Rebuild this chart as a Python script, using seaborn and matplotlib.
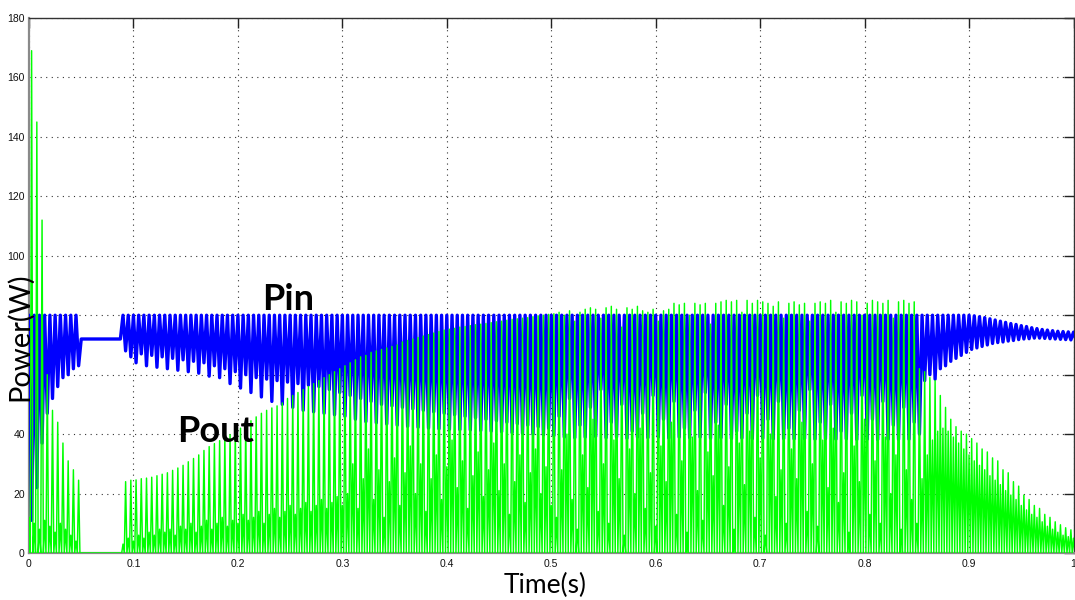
import numpy as np
import pandas as pd
import matplotlib
matplotlib.use("Agg")
import matplotlib.pyplot as plt
import seaborn as sns

# ---------------- data ----------------
STEP = 0.005                      # one switching cycle per sample
time = np.round(np.arange(201) * STEP, 4)

# Pin : cycle peaks (upper envelope) and cycle troughs
pin_peak = ([80] * 10 + [72] * 8 + [80] * 163 +
            [79.8, 79.5, 79.2, 78.8, 78.4, 78.0, 77.6, 77.2, 76.9, 76.5,
             76.2, 75.8, 75.5, 75.2, 75.0, 74.8, 74.6, 74.5, 74.4, 74.3])

pin_trough = ([11, 22, 37, 47, 52, 56, 59, 60, 62, 63] + [72] * 8 + [68, 66, 64] +
              [67, 63, 66.5, 62.5, 66, 62, 65.5, 61.5, 65, 61,
               64.5, 60.5, 64, 59.5, 63, 59, 62, 57, 61, 55.5,
               60, 54, 59, 52.5, 58.5, 51, 58, 50, 57.5, 49,
               57, 48, 56.5, 47.5, 56, 47, 55, 46.5, 54, 46,
               53, 45, 52, 44.2, 51, 43.8, 50, 43.4, 49.5, 43,
               49, 42.6, 48.5, 42.3, 48, 42, 47.5, 41.8, 47, 41.6,
               46.5, 41.5, 46, 41.4, 45.5, 41.2, 45, 41, 44.5, 40.8,
               44, 40.5, 43.5, 40.2, 43, 40, 42.5, 39.7, 42, 39.5] +
              [46, 39, 52, 38.8, 43, 39, 49, 39.2, 55, 38.8,
               44, 39, 50, 38.6, 41, 39, 47, 38.8, 53, 39,
               45, 38.7, 51, 39, 42, 38.8, 48, 39, 54, 38.6,
               44, 38.8, 50, 38.5, 41, 38.7, 47, 38.5, 53, 38.6,
               45, 38.4, 51, 38.5, 42, 38.4, 48, 38.5, 55, 38.3,
               44, 38.4, 50, 38.3, 41, 38.4, 47, 38.2, 53, 38.3,
               45, 38.2, 51, 38.3, 43, 38.2, 49, 38.3, 44] +
              [40, 58, 60, 58.5, 62, 63, 64.5, 65.5, 66.5, 67.5,
               68.5, 69, 69.5, 70, 70.5, 70.8, 71, 71.3, 71.5, 71.8,
               72, 72.1, 72.3, 72.3, 72.2, 72.1, 72, 71.9, 71.8, 71.7, 71.7])

# Pout : main cycle peaks, secondary (small) peaks, floor level
pout_peak = ([169, 145, 112, 60, 48, 44, 37, 31, 28, 24.5] + [0] * 8 +
             [24, 24.5, 24.6, 25, 25.2, 25.5, 26, 26.5, 27, 27.8,
              28.6, 29.5, 30.7, 31.8, 33, 34.5, 35.8, 36.8, 37.8, 38.8,
              39.8, 41, 42, 43.5, 44.5, 45.8, 47, 48, 48.8, 49.5,
              50.5, 52, 53, 54, 55, 56, 57, 58, 59, 60,
              61, 62, 63, 64, 65, 66, 66.5, 67.5, 68, 68.5,
              69, 69.5, 70, 71, 71.5, 72, 72.5, 73, 73.5, 74,
              74.5, 75, 75.3, 75.6, 76, 76.2, 76.5, 76.8, 77, 77.2,
              77.5, 77.8, 78, 78.3, 78.6, 78.8, 79, 79.2, 79.5, 79.8,
              80, 80.3, 80.5] +
             [81, 80, 81.5, 78, 81, 82,
              82.5, 82, 79, 82.5, 83, 82, 76, 82.5, 82, 83,
              81.5, 81, 82, 78, 81.5, 82,
              84, 83.5, 84, 80, 84, 83.5, 84, 77, 84, 84.5,
              85, 84.5, 85, 81, 85, 84, 85, 84.5,
              84, 83, 84.5, 79, 84, 84.5, 83.5, 84, 78, 84,
              84.5, 84, 85, 81, 84.5, 84, 85, 84.5, 80, 84,
              85, 84.5, 84, 85, 79, 84.5, 85, 84, 84.5] +
             [62, 61, 59, 58, 53, 49, 45, 42.5, 41, 40,
              38.5, 37, 35, 34, 32, 31, 28, 27, 24, 22.5,
              19.5, 18, 16, 15, 13, 12, 10.5, 9.5, 8.5, 7.8, 7])

pout_minor = ([12, 10, 8, 11, 9, 7, 10, 8, 6, 4] + [0] * 8 +
              [3, 5, 4, 6, 5, 7, 6, 8, 7, 8,
               6, 9, 8, 10, 7, 9, 11, 8, 10, 12,
               9, 11, 10, 13, 11, 12, 14, 10, 13, 15,
               12, 14, 16, 13, 15, 17, 14, 16, 18, 15,
               17, 19, 16] +
              [20, 30, 15, 25, 35, 18, 28, 12, 24, 32,
               16, 27, 36, 20, 30, 14, 25, 33, 18, 29,
               38, 22, 31, 15, 26, 34, 19, 28, 37, 21,
               30, 13, 24, 33, 17, 27, 35, 20, 29, 16] +
              [12, 28, 40, 18, 8, 33, 22, 45, 14, 30,
               10, 38, 25, 6, 35, 20, 42, 15, 27, 9,
               36, 24, 44, 13, 31, 7, 39, 21, 11, 34,
               26, 43, 16, 29, 8, 37, 23, 41, 12, 32,
               6, 40, 19, 28, 10, 35, 25, 44, 14, 30,
               9, 38, 22, 42, 17, 27, 7, 36, 24, 45,
               13, 31, 10, 39, 20, 33, 8, 28, 18] +
              [10, 25, 33, 38, 41, 42, 41, 39, 37, 35,
               33, 31, 29.5, 28, 26, 24.5, 23, 21, 19.5, 18,
               16, 14.5, 13, 12, 10.5, 9, 8, 7, 6, 5.5, 5])
pout_floor = [0.0] * 201

x_ticks = [0, 0.1, 0.2, 0.3, 0.4, 0.5, 0.6, 0.7, 0.8, 0.9, 1]
x_tick_labels = ["0", "0.1", "0.2", "0.3", "0.4", "0.5", "0.6", "0.7", "0.8", "0.9", "1"]
y_ticks = [0, 20, 40, 60, 80, 100, 120, 140, 160, 180]
# 60 and 80 are hidden behind the "Power(W)" label in the reference
y_tick_labels = ["0", "20", "40", "", "", "100", "120", "140", "160", "180"]

for arr in (pin_peak, pin_trough, pout_peak, pout_minor):
    assert len(arr) == len(time), len(arr)

# ---------------- build the oscillating waveforms ----------------
pin_df = pd.DataFrame({
    "time": np.column_stack([time, time + STEP / 2]).ravel(),
    "power": np.column_stack([pin_peak, pin_trough]).ravel(),
})
pout_df = pd.DataFrame({
    "time": np.column_stack([time, time + STEP / 4, time + STEP / 2, time + 3 * STEP / 4]).ravel(),
    "power": np.column_stack([pout_minor, pout_floor, pout_peak, pout_floor]).ravel(),
})

# ---------------- figure ----------------
sns.set_style("white")
plt.rcParams["font.family"] = ["Liberation Sans", "DejaVu Sans"]

W, H = 1075, 600
fig = plt.figure(figsize=(W / 100, H / 100), dpi=100)
ax = fig.add_axes([29 / W, 1 - 553 / H, (1073.5 - 29) / W, (553 - 18) / H])

sns.lineplot(data=pin_df, x="time", y="power", sort=False, estimator=None,
             color="#0000ff", linewidth=2.4, ax=ax, zorder=3)
sns.lineplot(data=pout_df, x="time", y="power", sort=False, estimator=None,
             color="#00ff00", linewidth=1.05, ax=ax, zorder=4)

ax.set_xlim(0, 1)
ax.set_ylim(0, 180)
ax.set_xticks(x_ticks)
ax.set_xticklabels(x_tick_labels)
ax.set_yticks(y_ticks)
ax.set_yticklabels(y_tick_labels)
ax.set_xlabel("")
ax.set_ylabel("")

ax.grid(True, color="#333333", linestyle=(0, (1, 4)), linewidth=0.8, zorder=1)
ax.set_axisbelow(True)
ax.tick_params(axis="both", which="major", direction="in", length=7, width=1,
               color="#222222", labelsize=7.5, top=True, right=True,
               labelcolor="#111111")
ax.tick_params(axis="x", pad=4)
ax.tick_params(axis="y", pad=3)
for side in ("left", "bottom"):
    ax.spines[side].set_color("#8a8a8a")
    ax.spines[side].set_linewidth(1.6)
for side in ("top", "right"):
    ax.spines[side].set_color("#333333")
    ax.spines[side].set_linewidth(1.0)
    ax.spines[side].set_visible(True)

ax.text(0.223, 81.8, "Pin", fontsize=26, fontweight="bold", family="Lato",
        ha="left", va="baseline", color="black", zorder=6)
ax.text(0.142, 37.3, "Pout", fontsize=26, fontweight="bold", family="Lato",
        ha="left", va="baseline", color="black", zorder=6)

fig.text(545 / W, 1 - 593 / H, "Time(s)", fontsize=19, family="Lato",
         ha="center", va="baseline", color="black")
fig.text(20 / W, 1 - 337 / H, "Power(W)", fontsize=21, family="Lato",
         rotation=90, ha="center", va="center", color="black", zorder=10)

fig.savefig("out.png", dpi=100, facecolor="white")
